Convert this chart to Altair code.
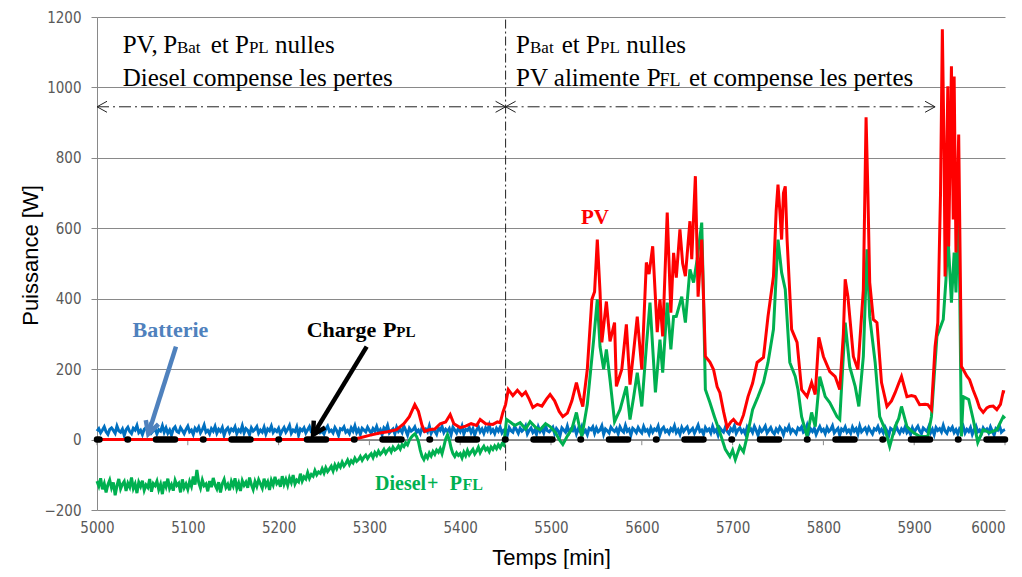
import altair as alt
import pandas as pd

# ---------------- data ----------------
bat_t = list(range(5000, 6001, 2))
batterie = [
    24, 31, 19, 27, 36, 22, 15, 29, 33, 26, 18, 38, 25, 21, 30, 12, 28, 35, 23, 17, 32, 27, 40, 20, 26,
    14, 29, 34, 22, 37, 19, 25, 31, 16, 28, 24, 39, 21, 33, 18, 27, 13, 30, 36, 23, 20, 34, 26, 17, 29,
    38, 22, 27, 15, 32, 25, 35, 19, 28, 41, 21, 26, 16, 31, 24, 37, 18, 29, 23, 34, 12, 27, 33, 20, 30,
    25, 36, 17, 28, 22, 39, 19, 31, 26, 14, 33, 24, 29, 37, 18, 27, 21, 35, 16, 30, 25, 38, 20, 28, 23,
    32, 15, 26, 34, 21, 29, 40, 18, 27, 23, 36, 13, 30, 25, 33, 19, 28, 37, 22, 17, 31, 26, 35, 20, 24,
    16, 30, 38, 23, 27, 19, 34, 25, 12, 31, 28, 36, 21, 26, 17, 33, 24, 39, 20, 29, 15, 32, 27, 22, 35,
    26, 18, 31, 24, 37, 21, 28, 14, 33, 27, 40, 19, 25, 30, 16, 35, 23, 29, 20, 38, 26, 13, 32, 24, 28,
    36, 21, 27, 17, 34, 25, 30, 22, 39, 18, 28, 24, 15, 33, 26, 37, 20, 29, 23, 31, 14, 35, 27, 19, 32,
    23, 38, 16, 29, 26, 34, 20, 31, 13, 27, 36, 22, 30, 18, 33, 25, 41, 21, 28, 17, 32, 24, 35, 19, 27,
    30, 14, 34, 25, 21, 37, 28, 18, 32, 24, 29, 39, 16, 26, 33, 20, 27, 15, 36, 23, 31, 19, 38, 25, 22,
    28, 35, 17, 31, 24, 12, 33, 27, 21, 38, 19, 29, 25, 34, 16, 30, 23, 37, 20, 26, 14, 32, 28, 36, 18,
    33, 22, 27, 39, 15, 30, 25, 19, 35, 28, 23, 31, 17, 36, 26, 21, 40, 24, 29, 13, 32, 27, 20, 34, 25,
    19, 37, 24, 28, 16, 33, 21, 30, 26, 38, 14, 29, 35, 22, 27, 18, 31, 25, 39, 20, 28, 15, 34, 23, 30,
    36, 20, 26, 32, 18, 29, 41, 23, 27, 15, 34, 25, 30, 19, 37, 22, 28, 13, 33, 26, 21, 35, 24, 17, 31,
    25, 39, 18, 28, 33, 21, 27, 16, 35, 24, 30, 20, 37, 26, 12, 32, 23, 29, 38, 19, 27, 34, 22, 16, 30,
    22, 35, 27, 14, 31, 26, 38, 20, 29, 24, 17, 33, 28, 36, 21, 25, 40, 18, 30, 23, 32, 15, 27, 37, 24,
    29, 17, 34, 23, 28, 39, 19, 26, 32, 13, 30, 25, 36, 21, 27, 18, 35, 24, 31, 16, 38, 22, 28, 33, 20,
    34, 24, 16, 31, 27, 37, 22, 29, 19, 35, 25, 12, 32, 28, 21, 39, 26, 18, 30, 23, 36, 20, 27, 15, 33,
    21, 30, 38, 25, 17, 33, 28, 23, 36, 19, 29, 14, 34, 26, 31, 22, 40, 24, 18, 32, 27, 35, 20, 28, 16,
    31, 26, 37, 19, 29, 23, 34, 15, 28, 38, 22, 27, 17, 33, 25, 30, 20, 36, 24, 13, 31, 27, 39, 21, 26,
    28,
]

pv_t = [5000, 5282, 5290, 5300, 5310, 5320, 5330, 5338, 5344, 5350, 5354, 5358, 5361, 5366, 5372,
        5378, 5384, 5389, 5393, 5400, 5406, 5412, 5418, 5422, 5428, 5436, 5441, 5444, 5447, 5450,
        5453, 5458, 5463, 5468, 5472, 5476, 5480, 5485, 5490, 5495, 5499, 5504, 5509, 5513, 5518,
        5523, 5528, 5532, 5535, 5540, 5545, 5548, 5551, 5554, 5556, 5561, 5565, 5570, 5572, 5578,
        5583, 5587, 5591, 5595, 5600, 5605, 5608, 5612, 5617, 5620, 5623, 5628, 5632, 5635, 5638,
        5642, 5645, 5648, 5653, 5655, 5659, 5662, 5666, 5670, 5675, 5679, 5683, 5686, 5690, 5694,
        5698, 5701, 5705, 5708, 5712, 5717, 5722, 5727, 5734, 5739, 5745, 5748, 5750, 5752, 5754,
        5756, 5758, 5760, 5765, 5771, 5776, 5782, 5787, 5791, 5795, 5800, 5807, 5813, 5818, 5822,
        5824, 5827, 5833, 5838, 5844, 5847, 5849, 5851, 5855, 5859, 5864, 5870, 5875, 5879, 5883,
        5886, 5892, 5897, 5901, 5906, 5912, 5915, 5919, 5923, 5926, 5929, 5931, 5933, 5934, 5937,
        5938, 5941, 5943, 5944, 5946, 5949, 5952, 5954, 5958, 5961, 5965, 5969, 5972, 5976, 5980,
        5983, 5987, 5991, 5995, 5998, 6000]
pv = [0, 0, 5, 12, 18, 22, 28, 45, 65, 99, 80, 40, 23, 28, 30,
      45, 50, 71, 45, 34, 38, 45, 40, 57, 45, 43, 50, 48, 77, 100,
      142, 125, 140, 125, 135, 115, 91, 100, 95, 115, 128, 110, 80, 65, 75,
      110, 162, 120, 94, 200, 398, 420, 568, 420, 276, 392, 279, 332, 151, 200,
      327, 156, 250, 349, 199, 503, 470, 549, 305, 398, 293, 645, 360, 530, 460,
      597, 500, 464, 620, 512, 748, 406, 568, 236, 220, 199, 150, 133, 80, 34,
      50, 57, 45, 43, 70, 122, 160, 219, 233, 350, 463, 650, 724, 650, 568,
      700, 719, 568, 313, 276, 142, 122, 162, 128, 290, 236, 193, 179, 142, 300,
      455, 406, 236, 199, 426, 915, 700, 446, 341, 332, 162, 94, 110, 133, 160,
      179, 122, 125, 122, 99, 100, 99, 85, 264, 332, 700, 1165, 800, 463, 1003,
      548, 1060, 625, 1031, 531, 866, 207, 199, 180, 170, 140, 114, 90, 77, 90,
      94, 95, 85, 100, 136, 135]

# Diesel + PFL : dense part (every 2 min) up to 5448, then read points
diesel_t_left = list(range(5000, 5449, 2))
diesel_left = [
    -118, -132, -110, -141, -125, -150, -128, -115, -137, -122, -158, -131, -112, -140, -127, -119, -146, -124, -135, -108, -139, -126, -152, -121, -133,
    -117, -144, -129, -136, -112, -148, -125, -131, -118, -142, -127, -155, -120, -134, -111, -139, -128, -145, -116, -130, -124, -150, -113, -137, -126,
    -141, -119, -133, -105, -128, -86, -122, -138, -115, -131, -126, -147, -118, -135, -109, -129, -140, -121, -150, -125, -113, -136, -127, -144, -119,
    -132, -110, -139, -124, -146, -117, -130, -121, -137, -108, -128, -142, -119, -133, -114, -126, -138, -111, -131, -120, -143, -116, -129, -106, -125,
    -118, -134, -104, -127, -113, -130, -109, -122, -101, -126, -115, -120, -97, -118, -106, -112, -94, -110, -99, -104, -88, -100, -92, -96, -83,
    -95, -80, -91, -84, -76, -89, -72, -83, -70, -78, -64, -75, -68, -58, -71, -60, -66, -53, -62, -57, -48, -59, -50, -44, -54,
    -46, -40, -51, -37, -45, -33, -42, -36, -28, -39, -31, -25, -35, -22, -30, -26, -18, -27, -14, -20, -9, -15, -2, 6, 12,
    16, 8, -5, -30, -48, -57, -44, -52, -38, -47, -34, -42, -30, -36, -26, -40, -20, 2, 14, 0, -24, -40, -48, -38, -45,
    -40, -52, -36, -46, -31, -43, -35, -28, -41, -33, -22, -37, -27, -19, -30, -24, -34, -21, -28, -18, -26, -15, -23, -12, -16,
]
diesel_t_right = [5451, 5455, 5460, 5466, 5472, 5477,
            5483, 5488, 5494, 5499, 5505, 5509, 5513, 5518, 5523, 5528, 5531, 5534, 5540, 5547, 5551,
            5554, 5558, 5561, 5565, 5570, 5576, 5583, 5587, 5591, 5595, 5600, 5605, 5609, 5615, 5620,
            5623, 5628, 5632, 5635, 5638, 5644, 5648, 5653, 5657, 5661, 5666, 5668, 5670, 5675, 5680,
            5686, 5692, 5697, 5700, 5703, 5708, 5712, 5716, 5722, 5728, 5734, 5739, 5745, 5750, 5754,
            5758, 5763, 5769, 5772, 5776, 5782, 5787, 5791, 5796, 5802, 5807, 5815, 5818, 5824, 5829,
            5835, 5839, 5844, 5848, 5851, 5857, 5862, 5868, 5873, 5879, 5883, 5886, 5892, 5899, 5906,
            5915, 5919, 5925, 5932, 5935, 5937, 5941, 5944, 5946, 5949, 5952, 5954, 5960, 5965, 5970,
            5976, 5983, 5991, 5998, 6000]
diesel_right = [57, 50, 40, 48, 30, 51,
          35, 28, 45, 37, 20, 0, -14, 10, 30, 77, 40, 9, 100, 284, 398,
          264, 200, 256, 170, 51, 85, 151, 57, 120, 190, 94, 264, 389, 134, 284,
          190, 389, 256, 349, 350, 406, 332, 483, 446, 512, 616, 398, 142, 105, 65,
          20, -28, -48, -30, -57, -20, -35, 9, 85, 122, 162, 219, 313, 568, 474,
          426, 219, 179, 142, 65, 9, 77, 37, 179, 122, 105, 65, 57, 332, 207,
          151, 94, 236, 540, 349, 219, 65, 28, -20, 37, 60, 94, 37, 20, 9,
          9, 65, 293, 341, 455, 588, 389, 531, 418, 682, 9, 122, 114, 57, -8,
          28, 20, 28, 65, 60]
diesel_t = diesel_t_left + diesel_t_right
diesel = diesel_left + diesel_right

charge_t = [5000, 6000]
charge = [0, 0]

x_ticks = list(range(5000, 6001, 100))
y_ticks = list(range(-200, 1201, 200))

# ---------------- frames ----------------
df_bat = pd.DataFrame({"t": bat_t, "v": batterie})
df_pv = pd.DataFrame({"t": pv_t, "v": pv})
df_dsl = pd.DataFrame({"t": diesel_t, "v": diesel})
df_chg = pd.DataFrame({"t": charge_t, "v": charge})

LABEL_FONT = "Liberation Sans Narrow, DejaVu Sans Condensed, Liberation Sans, sans-serif"
TITLE_FONT = "Liberation Sans, Arial, sans-serif"
SERIF = "Liberation Serif, Times New Roman, serif"
GRID = "#898989"

x_enc = alt.X("t:Q", scale=alt.Scale(domain=[5000, 6000], nice=False, zero=False),
              axis=alt.Axis(values=x_ticks, title="Temps [min]", grid=False, ticks=False,
                            domain=False, labelPadding=10, titlePadding=12, format="d",
                            labelFlush=False,
                            labelAlign={"condition": {"test": "datum.value >= 6000", "value": "right"},
                                        "value": "center"}))
y_enc = alt.Y("v:Q", scale=alt.Scale(domain=[-200, 1200], nice=False, zero=False),
              axis=alt.Axis(values=y_ticks, title="Puissance [W]", grid=True, tickSize=6,
                            labelPadding=10, titleX=-55, titleY=238, format="d",
                            labelFlush=False))

def line(df, color, width=3, **kw):
    return alt.Chart(df).mark_line(color=color, strokeWidth=width, **kw).encode(x=x_enc, y=y_enc)

# axis line at zero with tick marks
zero_df = pd.DataFrame({"t": [5000], "t2": [6000], "v": [0]})
zero_rule = alt.Chart(zero_df).mark_rule(color=GRID, strokeWidth=1).encode(x=x_enc, x2="t2:Q", y=y_enc)
tick_df = pd.DataFrame({"t": x_ticks, "v": [0] * len(x_ticks), "v2": [-16] * len(x_ticks)})
tick_rules = alt.Chart(tick_df).mark_rule(color=GRID, strokeWidth=1).encode(x=x_enc, y=y_enc, y2="v2:Q")

# vertical separator
sep_df = pd.DataFrame({"t": [5450], "v": [-88], "v2": [1200]})
sep = alt.Chart(sep_df).mark_rule(color="#222222", strokeWidth=1, strokeDash=[9, 3, 2, 3]).encode(
    x=x_enc, y=y_enc, y2="v2:Q")

# double arrows
arr_y = 945
arr_df = pd.DataFrame({"t": [5000, 5450], "t2": [5450, 5923], "v": [arr_y, arr_y]})
arr_lines = alt.Chart(arr_df).mark_rule(color="#222222", strokeWidth=1, strokeDash=[12, 4, 2, 4]).encode(
    x=x_enc, x2="t2:Q", y=y_enc)
head_l = pd.DataFrame({"t": [5000, 5450], "v": [arr_y, arr_y]})
head_r = pd.DataFrame({"t": [5450, 5923], "v": [arr_y, arr_y]})
heads_left = alt.Chart(head_l).mark_point(shape="M2,-1.1L0,0L2,1.1", size=100, filled=False,
                                          color="#222222", strokeWidth=1, opacity=1).encode(x=x_enc, y=y_enc)
heads_right = alt.Chart(head_r).mark_point(shape="M-2,-1.1L0,0L-2,1.1", size=100, filled=False,
                                           color="#222222", strokeWidth=1, opacity=1).encode(x=x_enc, y=y_enc)

# pointer arrows for Batterie and Charge
bat_arrow_df = pd.DataFrame({"t": [5087, 5056.5], "v": [264, 16]})
chg_arrow_df = pd.DataFrame({"t": [5297, 5238], "v": [264, 14]})
bat_arrow = alt.Chart(bat_arrow_df).mark_line(color="#4F81BD", strokeWidth=4.5).encode(x=x_enc, y=y_enc)
chg_arrow = alt.Chart(chg_arrow_df).mark_line(color="#000000", strokeWidth=4.5).encode(x=x_enc, y=y_enc)
bat_head = alt.Chart(bat_arrow_df.iloc[[1]]).mark_point(
    shape="M-0.7,1.3L0,0L0.7,1.3", size=361, filled=False, color="#4F81BD", strokeWidth=4.5,
    opacity=1, angle=198, strokeJoin="miter").encode(x=x_enc, y=y_enc)
chg_head = alt.Chart(chg_arrow_df.iloc[[1]]).mark_point(
    shape="M-0.7,1.3L0,0L0.7,1.3", size=361, filled=False, color="#000000", strokeWidth=4.5,
    opacity=1, angle=211, strokeJoin="miter").encode(x=x_enc, y=y_enc)

# series
blue = line(df_bat, "#0070C0", 3)
green = line(df_dsl, "#00B050", 3)
red = line(df_pv, "#FF0000", 3)
black = alt.Chart(df_chg).mark_line(color="#000000", strokeWidth=6.5, strokeCap="round",
                                    strokeDash=[19, 28, 0.5, 28], strokeDashOffset=16.5).encode(x=x_enc, y=y_enc)

# annotation texts (normal serif)
L1, L2 = 1098, 1004
txt_normal = pd.DataFrame([
    {"t": 5028.3, "v": L1, "text": "PV,", "size": 25},
    {"t": 5073.0, "v": L1, "text": "P", "size": 25},
    {"t": 5088.0, "v": L1, "text": "Bat", "size": 17},
    {"t": 5125.2, "v": L1, "text": "et", "size": 25},
    {"t": 5152.0, "v": L1, "text": "P", "size": 25},
    {"t": 5167.3, "v": L1, "text": "PL", "size": 17},
    {"t": 5196.0, "v": L1, "text": "nulles", "size": 25},
    {"t": 5028.3, "v": L2, "text": "Diesel compense les pertes", "size": 25},
    {"t": 5461.5, "v": L1, "text": "P", "size": 25},
    {"t": 5476.9, "v": L1, "text": "Bat", "size": 17},
    {"t": 5511.8, "v": L1, "text": "et", "size": 25},
    {"t": 5538.5, "v": L1, "text": "P", "size": 25},
    {"t": 5554.0, "v": L1, "text": "PL", "size": 17},
    {"t": 5583.0, "v": L1, "text": "nulles", "size": 25},
    {"t": 5461.5, "v": L2, "text": "PV alimente", "size": 25},
    {"t": 5605.4, "v": L2, "text": "P", "size": 25},
    {"t": 5619.4, "v": L2, "text": "FL", "size": 18},
    {"t": 5652.0, "v": L2, "text": "et compense les pertes", "size": 25},
])
t_normal = alt.Chart(txt_normal).mark_text(align="left", baseline="alphabetic", font=SERIF,
                                           color="#000000").encode(
    x=x_enc, y=y_enc, text="text:N", size=alt.Size("size:Q", scale=None))

txt_bold = pd.DataFrame([
    {"t": 5533.0, "v": 612, "text": "PV", "size": 21, "color": "#FF0000"},
    {"t": 5039.2, "v": 292, "text": "Batterie", "size": 22, "color": "#4F81BD"},
    {"t": 5230.9, "v": 292, "text": "Charge", "size": 22, "color": "#000000"},
    {"t": 5315.0, "v": 292, "text": "P", "size": 22, "color": "#000000"},
    {"t": 5329.7, "v": 292, "text": "PL", "size": 15, "color": "#000000"},
    {"t": 5306.2, "v": -143, "text": "Diesel", "size": 20, "color": "#00B050"},
    {"t": 5363.5, "v": -143, "text": "+", "size": 20, "color": "#00B050"},
    {"t": 5388.5, "v": -143, "text": "P", "size": 20, "color": "#00B050"},
    {"t": 5402.5, "v": -143, "text": "FL", "size": 16, "color": "#00B050"},
])
t_bold = alt.Chart(txt_bold).mark_text(align="left", baseline="alphabetic", font=SERIF,
                                       fontWeight="bold").encode(
    x=x_enc, y=y_enc, text="text:N", size=alt.Size("size:Q", scale=None),
    color=alt.Color("color:N", scale=None))

chart = alt.layer(
    zero_rule, tick_rules, sep, arr_lines, heads_left, heads_right,
    blue, green, red, black,
    bat_arrow, chg_arrow, bat_head, chg_head,
    t_normal, t_bold,
).properties(
    width=908, height=493,
    autosize=alt.AutoSizeParams(type="none"),
    padding={"left": 89, "top": 9, "right": 9, "bottom": 59},
).configure_view(stroke=None).configure_axis(
    labelFont=LABEL_FONT, labelFontSize=15, labelColor="#595959",
    titleFont=TITLE_FONT, titleFontSize=22, titleFontWeight="normal", titleColor="#000000",
    domainColor=GRID, tickColor=GRID, gridColor=GRID, gridWidth=1,
)

chart.save("out.html", embed_options={"renderer": "svg", "actions": False})
